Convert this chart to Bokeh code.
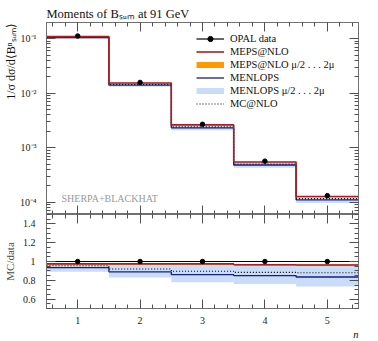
import numpy as np
from bokeh.plotting import figure
from bokeh.layouts import column
from bokeh.models import (FixedTicker, CustomJSTickFormatter, LinearAxis, LogAxis,
                          Label, Legend, LegendItem, Range1d, Title)
from bokeh.embed import file_html
from bokeh.resources import INLINE

# ---------------- data ----------------
n_values = [1, 2, 3, 4, 5]
bin_edges = [0.5, 1.5, 2.5, 3.5, 4.5, 5.5]
opal_data = [0.112, 0.0158, 0.0027, 0.00057, 0.000133]
opal_err = [0.0012, 0.0002, 0.00004, 0.00001, 0.000003]

meps_ratio = [0.975, 0.975, 0.975, 0.966, 0.962]
meps_lo = [0.966, 0.966, 0.966, 0.956, 0.952]
meps_hi = [0.984, 0.984, 0.982, 0.973, 0.970]

menlops_ratio = [0.935, 0.89, 0.86, 0.85, 0.835]
menlops_lo = [0.89, 0.83, 0.78, 0.76, 0.735]
menlops_hi = [0.962, 0.96, 0.96, 0.96, 0.96]

mcnlo_ratio = [0.955, 0.92, 0.897, 0.884, 0.88]

x_ticks = [1, 2, 3, 4, 5]
y_ticks_top = [1e-4, 1e-3, 1e-2, 1e-1]
y_ticks_ratio = [0.6, 0.8, 1.0, 1.2, 1.4]

# ---------------- styles ----------------
FONT = "Liberation Serif"
RED = "#b01c1c"
ORANGE = "#ff9900"
NAVY = "#1c1c82"
LIGHTBLUE = "#c9dcf8"
AXIS_COL = "#707070"
TICK_COL = "#505050"

data = np.array(opal_data)
err = np.array(opal_err)
edges = np.array(bin_edges)
left, right = edges[:-1], edges[1:]


def steps(vals):
    v = list(vals)
    return v + [v[-1]]


x_minor = [float(v) for v in np.round(np.arange(0.6, 5.5, 0.2), 3)]
x_ticker = FixedTicker(ticks=x_ticks, minor_ticks=x_minor)
log_minor = [k * 10.0 ** e for e in range(-5, 0) for k in range(2, 10)]
ylog_ticker = FixedTicker(ticks=y_ticks_top, minor_ticks=log_minor)
yr_ticker = FixedTicker(ticks=y_ticks_ratio,
                        minor_ticks=[float(v) for v in np.round(np.arange(0.5, 1.51, 0.05), 3)])

log_fmt = CustomJSTickFormatter(code="""
const e = Math.round(Math.log10(tick));
const sup = {'-':'\u207b','0':'\u2070','1':'\u00b9','2':'\u00b2','3':'\u00b3','4':'\u2074','5':'\u2075'};
return '10' + String(e).split('').map(c => sup[c]).join('');
""")
plain_fmt = CustomJSTickFormatter(code="return String(tick);")
blank_fmt = CustomJSTickFormatter(code="return '';")


def style_axis(ax, show_labels=True):
    ax.axis_line_color = AXIS_COL
    ax.major_tick_line_color = TICK_COL
    ax.minor_tick_line_color = TICK_COL
    ax.major_tick_in = 9
    ax.major_tick_out = 0
    ax.minor_tick_in = 4
    ax.minor_tick_out = 0
    ax.major_label_text_font = FONT
    ax.major_label_text_font_size = "10px"
    ax.major_label_text_color = "#222222"
    if not show_labels:
        ax.formatter = blank_fmt
        ax.major_label_text_font_size = "1px"
        ax.major_label_standoff = 0


# ---------------- top panel ----------------
top = figure(width=362, height=214, y_axis_type="log",
             x_range=Range1d(0.5, 5.5), y_range=Range1d(6.0e-5, 0.198),
             output_backend="svg", toolbar_location=None,
             min_border_left=39, min_border_right=4, min_border_top=22,
             min_border_bottom=0)
top.grid.visible = False
top.outline_line_color = AXIS_COL
top.title.text = "Moments of B\u209b\u1d64\u2098 at 91 GeV"
top.title.text_font = FONT
top.title.text_font_size = "12.5px"
top.title.text_font_style = "normal"
top.title.text_color = "#111111"
top.title.align = "left"
top.title.standoff = 4
top.xaxis.ticker = x_ticker
style_axis(top.xaxis[0], show_labels=False)
top.yaxis.ticker = ylog_ticker
top.yaxis.formatter = log_fmt
style_axis(top.yaxis[0])
top.yaxis.major_label_standoff = 10
top.add_layout(Title(text="1/\u03c3 d\u03c3/d\u27e8B\u207f\u209b\u1d64\u2098\u27e9",
                     align="right", text_font=FONT, text_font_style="normal",
                     text_font_size="12px", text_color="#111111", standoff=0),
               "left")
ax_r = LogAxis(ticker=ylog_ticker)
style_axis(ax_r, show_labels=False)
top.add_layout(ax_r, "right")
ax_t = LinearAxis(ticker=x_ticker)
style_axis(ax_t, show_labels=False)
top.add_layout(ax_t, "above")

top.quad(left=left, right=right, bottom=data * np.array(menlops_lo),
         top=data * np.array(menlops_hi), fill_color=LIGHTBLUE, line_color=None)
top.quad(left=left, right=right, bottom=data * np.array(meps_lo),
         top=data * np.array(meps_hi), fill_color=ORANGE, line_color=None)
top.step(x=edges, y=steps(data * np.array(menlops_ratio)), mode="after",
         line_color=NAVY, line_width=1.3)
top.step(x=edges, y=steps(data * np.array(mcnlo_ratio)), mode="after",
         line_color="black", line_width=1.1, line_dash="1 2")
top.step(x=edges, y=steps(data * np.array(meps_ratio)), mode="after",
         line_color=RED, line_width=1.6)
top.segment(x0=n_values, y0=data - err, x1=n_values, y1=data + err,
            line_color="black", line_width=1.2)
top.scatter(x=n_values, y=data, size=4.5, color="black")

# legend (proxy glyphs placed outside the visible range)
px, py = [-10, -9], [1.0, 1.0]
r_d_line = top.line(x=px, y=py, line_color="black", line_width=1.2)
r_d_dot = top.scatter(x=[-10], y=[1.0], size=4.5, color="black")
r_meps = top.line(x=px, y=py, line_color=RED, line_width=1.6)
r_meps_b = top.line(x=px, y=py, line_color=ORANGE, line_width=6)
r_menl = top.line(x=px, y=py, line_color=NAVY, line_width=1.3)
r_menl_b = top.line(x=px, y=py, line_color=LIGHTBLUE, line_width=6)
r_mc = top.line(x=px, y=py, line_color="black", line_width=1.1, line_dash="1 2")

legend = Legend(items=[
    LegendItem(label="OPAL data", renderers=[r_d_line, r_d_dot]),
    LegendItem(label="MEPS@NLO", renderers=[r_meps]),
    LegendItem(label="MEPS@NLO \u03bc/2 . . . 2\u03bc", renderers=[r_meps_b]),
    LegendItem(label="MENLOPS", renderers=[r_menl]),
    LegendItem(label="MENLOPS \u03bc/2 . . . 2\u03bc", renderers=[r_menl_b]),
    LegendItem(label="MC@NLO", renderers=[r_mc]),
], location=(148, 102))
legend.background_fill_alpha = 0
legend.border_line_alpha = 0
legend.padding = 2
legend.margin = 0
legend.spacing = 0
legend.glyph_width = 28
legend.glyph_height = 13
legend.label_height = 13
legend.label_standoff = 6
legend.label_text_font = FONT
legend.label_text_font_size = "10.5px"
legend.label_text_color = "#111111"
top.add_layout(legend)

top.add_layout(Label(x=0.5, y=1e-4, x_offset=15, y_offset=4,
                     text="SHERPA+BLACKHAT", text_font=FONT, text_font_size="10px",
                     text_baseline="middle", text_align="left", text_color="#9a9a9a"))

# ---------------- ratio panel ----------------
rat = figure(width=362, height=125, x_range=top.x_range, y_range=Range1d(0.5, 1.5),
             output_backend="svg", toolbar_location=None,
             min_border_left=39, min_border_right=4, min_border_top=0,
             min_border_bottom=30)
rat.grid.visible = False
rat.outline_line_color = AXIS_COL
rat.xaxis.ticker = x_ticker
style_axis(rat.xaxis[0])
rat.xaxis.formatter = plain_fmt
rat.xaxis.major_label_standoff = 8
rat.add_layout(Title(text="n", align="right", text_font=FONT, text_font_style="italic",
                     text_font_size="10.5px", text_color="#111111", standoff=0),
               "below")
rat.yaxis.ticker = yr_ticker
style_axis(rat.yaxis[0])
rat.yaxis.formatter = plain_fmt
rat.yaxis.major_label_standoff = 11
rat.yaxis.axis_label = "MC/data"
rat.yaxis.axis_label_text_font = FONT
rat.yaxis.axis_label_text_font_style = "normal"
rat.yaxis.axis_label_text_font_size = "11px"
rat.yaxis.axis_label_standoff = 4
ax_r2 = LinearAxis(ticker=yr_ticker)
style_axis(ax_r2, show_labels=False)
rat.add_layout(ax_r2, "right")
ax_t2 = LinearAxis(ticker=x_ticker)
style_axis(ax_t2, show_labels=False)
rat.add_layout(ax_t2, "above")

rat.quad(left=left, right=right, bottom=menlops_lo, top=menlops_hi,
         fill_color=LIGHTBLUE, line_color=None)
rat.quad(left=left, right=right, bottom=meps_lo, top=meps_hi,
         fill_color=ORANGE, line_color=None)
rat.step(x=edges, y=steps(menlops_ratio), mode="after", line_color=NAVY, line_width=1.3)
rat.step(x=edges, y=steps(mcnlo_ratio), mode="after", line_color="black",
         line_width=1.1, line_dash="1 2")
rat.step(x=edges, y=steps(meps_ratio), mode="after", line_color=RED, line_width=1.6)
data_ratio = data / data
rat.step(x=edges, y=steps(data_ratio), mode="after", line_color="black", line_width=1.2)
rat.scatter(x=n_values, y=data_ratio, size=4.5, color="black")

layout = column(top, rat, spacing=0)
open("out.html", "w").write(file_html(layout, INLINE))
